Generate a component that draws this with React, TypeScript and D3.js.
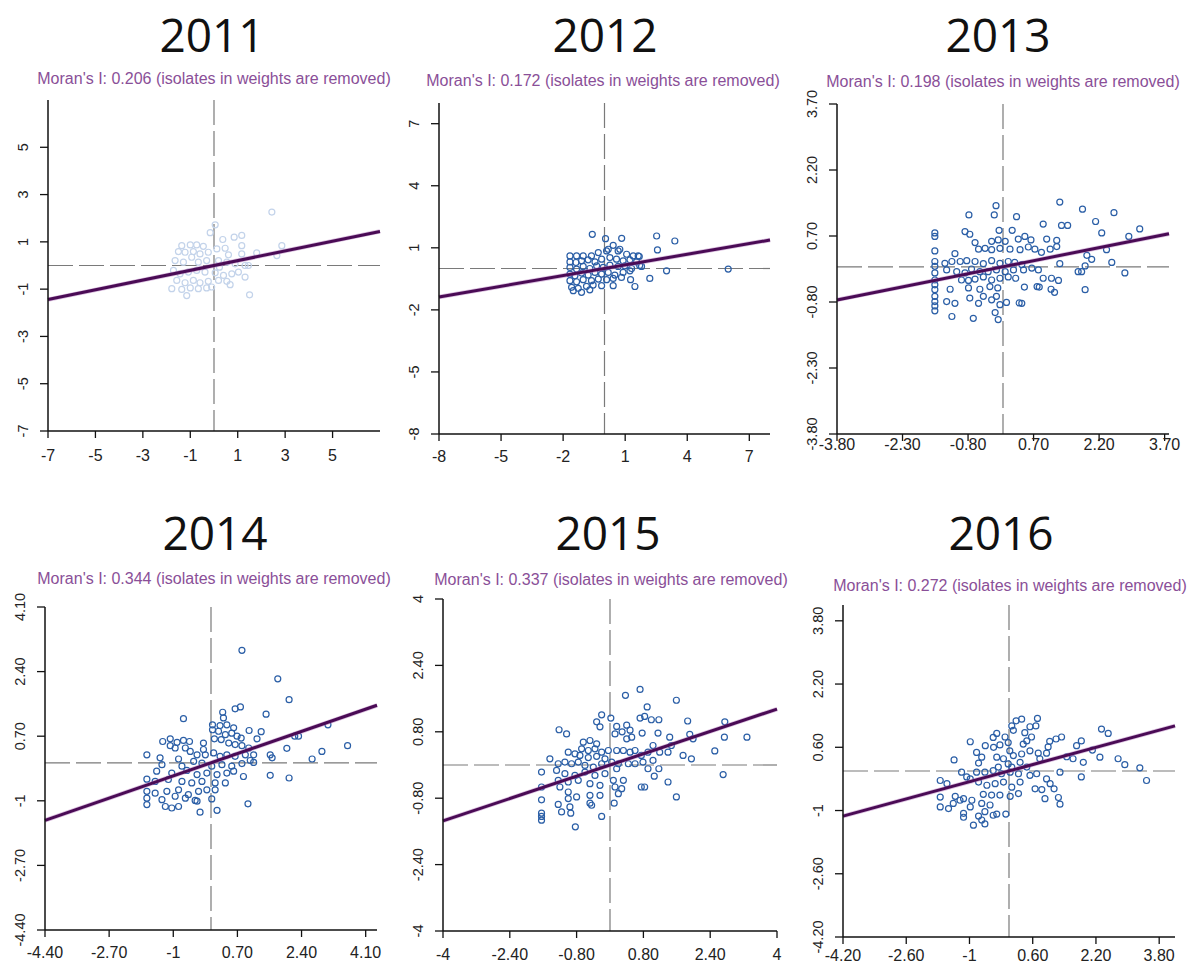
import React from 'react';
import * as d3 from 'd3';

// ---- data ----
const years = ['2011', '2012', '2013', '2014', '2015', '2016'];
const moransI = [0.206, 0.172, 0.198, 0.344, 0.337, 0.272];

const xDomains = [[-7, 7], [-8, 8], [-3.8, 3.8], [-4.4, 4.4], [-4, 4], [-4.2, 4.2]];
const yDomains = [[-7, 7], [-8, 8], [-3.8, 3.7], [-4.4, 4.1], [-4, 4], [-4.2, 4.2]];

const tickValues = [
  [-7, -5, -3, -1, 1, 3, 5],
  [-8, -5, -2, 1, 4, 7],
  [-3.8, -2.3, -0.8, 0.7, 2.2, 3.7],
  [-4.4, -2.7, -1, 0.7, 2.4, 4.1],
  [-4, -2.4, -0.8, 0.8, 2.4, 4],
  [-4.2, -2.6, -1, 0.6, 2.2, 3.8],
];

const points2011 = [
  [2.44, 2.26], [0.05, 1.72], [-0.16, 1.39], [0.37, 1.1], [0.85, 1.2], [1.17, 1.27], [1.17, 0.84],
  [-1.36, 0.84], [-1.0, 0.87], [-0.73, 0.87], [-0.45, 0.81], [-1.5, 0.59], [-1.22, 0.56], [-0.87, 0.59],
  [-0.59, 0.49], [-0.24, 0.56], [0.12, 0.7], [0.47, 0.73], [0.61, 0.45], [1.17, 0.49], [1.8, 0.53],
  [2.86, 0.84], [2.65, 0.42], [-1.64, 0.21], [-1.29, 0.14], [-0.94, 0.35], [-0.66, 0.14], [-0.31, 0.21],
  [0.19, 0.21], [0.54, 0.14], [0.89, 0.07], [1.31, 0], [1.45, 0], [-1.71, -0.21], [-1.43, -0.35],
  [-1.08, -0.28], [-0.73, -0.21], [-0.38, -0.28], [0.05, -0.31], [0.4, -0.42], [0.75, -0.35], [1.03, -0.28],
  [1.31, -0.49], [-1.57, -0.63], [-1.22, -0.73], [-0.87, -0.63], [-0.59, -0.73], [-0.24, -0.67], [0.19, -0.63],
  [0.54, -0.67], [0.68, -0.81], [-1.78, -0.98], [-1.36, -1.01], [-1.0, -0.95], [-0.66, -0.98], [-0.31, -0.95],
  [-0.1, -0.91], [-1.15, -1.27], [1.5, -1.24], [0.23, -0.07],
];

const points2012 = [
  [-0.59, 1.65], [0.05, 1.44], [0.83, 1.46], [0.42, 1.12], [0.18, 0.93], [0.74, 0.93],
  [-1.67, 0.61], [-1.35, 0.61], [-1.03, 0.61], [-0.63, 0.61], [-0.3, 0.77], [0.1, 0.85], [0.66, 0.85],
  [1.07, 0.69], [1.39, 0.61], [1.68, 0.58],
  [-1.67, 0.32], [-1.38, 0.29], [-1.11, 0.37], [-0.79, 0.42], [-0.46, 0.32], [-0.14, 0.45], [0.26, 0.53],
  [0.58, 0.45], [0.9, 0.37], [1.23, 0.42], [1.55, 0.32],
  [-1.67, 0.05], [-1.35, -0.03], [-1.03, 0.1], [-0.71, 0.0], [-0.38, 0.13], [-0.06, 0.05], [0.26, 0.16],
  [0.66, 0.1], [0.98, 0.13], [1.31, 0.0], [1.79, 0.1],
  [-1.67, -0.27], [-1.43, -0.35], [-1.11, -0.22], [-0.79, -0.32], [-0.46, -0.19], [-0.14, -0.27],
  [0.18, -0.19], [0.5, -0.32], [0.9, -0.19], [1.23, -0.11],
  [-1.67, -0.59], [-1.35, -0.64], [-1.03, -0.54], [-0.63, -0.59], [-0.3, -0.51], [0.1, -0.54], [0.42, -0.48],
  [0.82, -0.43],
  [-1.59, -0.91], [-1.27, -0.96], [-0.87, -0.86], [-0.55, -0.8], [-0.14, -0.83],
  [-1.51, -1.07], [-1.11, -1.15], [-0.71, -1.03], [0.42, -0.83],
  [2.52, 1.57], [3.4, 1.33], [2.56, 0.9], [3.0, -0.11], [5.98, -0.03], [2.19, -0.48], [1.47, -0.87],
  [1.26, -0.54], [1.63, 0.61], [1.7, 0.14],
];

const points2013 = [
  [-0.16, 1.39], [-0.2, 1.18], [-0.78, 1.18], [0.31, 1.14], [1.3, 1.47], [1.82, 1.31], [2.54, 1.23],
  [2.12, 1.03], [0.92, 0.97], [1.34, 0.94], [1.48, 0.94], [2.26, 0.77], [3.13, 0.86], [2.88, 0.69],
  [-1.56, 0.77], [-1.56, 0.69], [-0.87, 0.8], [-0.76, 0.74], [-0.09, 0.83], [0.21, 0.83], [-0.64, 0.55],
  [-0.26, 0.58], [-0.11, 0.61], [0.05, 0.58], [0.35, 0.63], [0.5, 0.69], [0.64, 0.61], [1.0, 0.63],
  [1.23, 0.6], [-1.56, 0.36], [-1.1, 0.3],
  [-0.56, 0.4], [-0.41, 0.42], [-0.26, 0.39], [-0.07, 0.42], [0.16, 0.4], [0.39, 0.39], [0.58, 0.45],
  [0.73, 0.4], [0.88, 0.33], [1.08, 0.4], [1.23, 0.46],
  [2.37, 0.39], [1.92, 0.26], [2.03, 0.17], [-1.56, 0.12], [-1.56, 0.01], [-1.33, 0.08], [-1.17, 0.12],
  [-0.98, 0.12], [-0.83, 0.14],
  [-0.64, 0.12], [-0.45, 0.07], [-0.26, 0.14], [-0.07, 0.08], [0.12, 0.12], [0.27, 0.1], [0.43, 0.05],
  [1.3, 0.07], [2.49, 0.1], [1.88, 0.02], [1.8, -0.11], [1.72, -0.11], [2.79, -0.14],
  [-1.56, -0.14], [-1.56, -0.3], [-1.56, -0.41], [-1.29, -0.07], [-1.06, -0.11], [-0.87, -0.14],
  [-0.72, -0.05], [-0.53, -0.11], [-0.34, -0.11], [-0.15, -0.07], [0.05, -0.11], [0.24, -0.07],
  [0.47, -0.07], [0.66, -0.03], [0.81, -0.07], [0.92, -0.26], [1.11, -0.26], [1.27, -0.31],
  [-0.95, -0.3], [-0.79, -0.31], [-0.64, -0.28], [-0.45, -0.23], [-0.26, -0.3], [-0.07, -0.26],
  [0.12, -0.23], [0.29, -0.26],
  [-1.21, -0.51], [-0.79, -0.48], [-0.53, -0.51], [-0.3, -0.45], [-0.12, -0.48], [0.49, -0.46],
  [0.83, -0.46], [1.1, -0.51], [1.18, -0.58], [1.88, -0.52],
  [-1.56, -0.52], [-1.56, -0.67], [-1.56, -0.79], [-1.56, -0.89], [-1.56, -1.0],
  [-1.29, -0.79], [-1.1, -0.83], [-0.76, -0.71], [-0.45, -0.67], [-0.26, -0.75], [-0.15, -0.67],
  [-0.56, -0.83], [0.08, -0.81], [0.43, -0.83], [-0.07, -0.86],
  [-1.17, -1.13], [-0.68, -1.17], [-0.18, -1.04], [-0.11, -1.2], [0.37, -0.82], [0.78, -0.45],
];

const points2014 = [
  [0.82, 2.96], [1.77, 2.21], [2.07, 1.66], [0.64, 1.42], [0.78, 1.47], [1.46, 1.28], [0.31, 1.33],
  [0.33, 1.18], [-0.73, 1.16], [3.1, 1.0], [2.22, 0.7], [2.32, 0.7], [3.62, 0.45], [2.94, 0.3],
  [2.01, 0.38], [1.01, 0.85], [1.33, 0.82], [1.22, 0.63],
  [0.04, 1.0], [0.24, 0.98], [0.42, 1.0], [0.6, 0.92], [0.04, 0.87], [0.2, 0.83], [0.38, 0.74],
  [0.55, 0.78], [0.69, 0.7], [0.8, 0.65], [0.09, 0.63], [0.27, 0.61], [0.47, 0.52], [0.64, 0.48],
  [0.82, 0.45], [1.0, 0.39],
  [-1.28, 0.56], [-1.08, 0.63], [-0.9, 0.54], [-0.73, 0.59], [-0.57, 0.56], [-1.08, 0.45], [-0.95, 0.39],
  [-0.68, 0.39], [-0.2, 0.52], [-0.2, 0.35],
  [-0.55, 0.3], [-0.37, 0.21], [-0.15, 0.21], [0.07, 0.26], [0.24, 0.17], [0.42, 0.21], [0.64, 0.17],
  [0.91, 0.21], [1.13, 0.21], [-1.7, 0.21], [-1.35, 0.13], [-0.86, 0.1], [-0.46, 0.04], [1.04, 0.06],
  [1.13, 0.01], [1.57, 0.21], [1.62, 0.13], [2.68, 0.1],
  [-1.3, -0.05], [-0.77, -0.09], [-0.24, -0.01], [0.02, -0.09], [0.29, -0.05], [0.55, -0.09], [0.82, -0.02],
  [-1.44, -0.22], [-1.04, -0.27], [-0.64, -0.2], [-0.37, -0.31], [-0.11, -0.27], [0.16, -0.31],
  [0.42, -0.27], [0.6, -0.22], [0.86, -0.36], [1.57, -0.33], [2.07, -0.4],
  [-1.7, -0.43], [-1.48, -0.49], [-1.13, -0.44], [-0.77, -0.49], [-0.51, -0.53], [-0.24, -0.49],
  [0.11, -0.53], [0.38, -0.53],
  [-1.7, -0.75], [-1.48, -0.8], [-1.17, -0.75], [-0.86, -0.71], [-0.6, -0.84], [-0.33, -0.75],
  [-0.11, -0.71], [0.11, -0.71],
  [-1.7, -0.93], [-1.3, -0.97], [-0.95, -0.88], [-0.68, -0.93], [-0.37, -1.01], [0.02, -0.95],
  [-1.7, -1.1], [-1.21, -1.15], [-1.04, -1.19], [-0.86, -1.15], [-0.42, -0.99], [-0.29, -1.3],
  [0.16, -1.25], [0.98, -1.08],
];

const points2015 = [
  [0.72, 1.82], [0.37, 1.68], [1.59, 1.56], [0.89, 1.4], [0.83, 1.17], [0.99, 1.09], [1.17, 1.09],
  [0.72, 1.13], [1.86, 1.06],
  [-0.2, 1.21], [0.02, 1.13], [-0.32, 1.04], [-0.24, 0.92], [0.16, 0.93], [0.4, 0.96], [0.29, 0.8],
  [0.48, 0.84], [0.12, 0.75], [0.4, 0.63], [0.52, 0.67],
  [-1.22, 0.85], [-1.04, 0.75], [0.77, 0.77], [1.15, 0.77], [1.43, 0.67], [1.91, 0.74], [1.99, 0.63],
  [2.74, 0.67], [3.28, 0.67], [2.75, 1.04],
  [-0.64, 0.55], [-0.48, 0.59], [-0.32, 0.51], [-0.68, 0.39], [-0.52, 0.35], [-0.36, 0.39], [-0.2, 0.31],
  [-0.04, 0.35],
  [-1.0, 0.31], [-0.84, 0.27], [-0.72, 0.23], [-0.52, 0.18], [-0.32, 0.21], [-0.12, 0.15],
  [-1.44, 0.15], [-1.24, 0.03], [-1.08, 0.07], [-0.92, 0.03], [-0.76, 0.07], [-0.6, -0.01], [-0.4, -0.05],
  [-0.2, 0.03], [0.04, 0.07],
  [0.16, 0.35], [0.32, 0.35], [0.48, 0.31], [0.6, 0.35], [0.75, 0.23], [0.91, 0.31], [1.03, 0.47],
  [1.19, 0.31], [1.39, 0.31], [1.47, 0.47], [1.75, 0.23], [1.95, 0.15], [2.51, 0.34],
  [0.2, 0.03], [0.44, 0.03], [0.6, 0.03], [0.79, 0.07], [1.03, 0.11],
  [-1.64, -0.17], [-1.28, -0.13], [-1.08, -0.21], [-0.84, -0.25], [-0.6, -0.17], [-0.36, -0.25],
  [-0.12, -0.21], [0.16, -0.09], [0.91, -0.09], [1.17, -0.09], [1.06, -0.27], [2.71, -0.23],
  [-1.24, -0.37], [-1.0, -0.41], [-0.76, -0.37], [-0.48, -0.45], [-0.24, -0.49], [0.08, -0.37],
  [0.32, -0.37], [0.12, -0.53], [0.28, -0.57], [0.75, -0.53], [0.83, -0.53], [1.39, -0.41],
  [-1.64, -0.53], [-1.2, -0.53], [-1.0, -0.65], [-0.8, -0.77], [-0.48, -0.73], [-0.24, -0.73],
  [0.2, -0.69], [1.59, -0.77], [-1.64, -0.84], [-1.0, -0.81],
  [-1.24, -0.95], [-0.96, -1.01], [-0.48, -0.92], [-0.44, -0.97], [0.1, -0.92], [-1.16, -1.13],
  [-0.94, -1.16], [-1.64, -1.16], [-1.64, -1.24], [-1.64, -1.33], [-0.2, -1.24], [-0.83, -1.49],
];

const points2016 = [
  [0.32, 1.31], [0.18, 1.27], [0.07, 1.14], [0.11, 1.03], [0.72, 1.33], [0.68, 1.14], [0.53, 1.12],
  [2.34, 1.06], [2.51, 0.95], [-0.31, 0.95], [-0.1, 0.86], [-0.4, 0.85], [0.4, 0.97], [0.57, 0.86],
  [0.45, 0.76], [0.36, 0.68], [-0.98, 0.74], [-0.6, 0.64], [-0.39, 0.6], [-0.23, 0.66], [-0.02, 0.72],
  [0.02, 0.51], [1.03, 0.75], [1.19, 0.81], [1.33, 0.86], [0.99, 0.61], [1.71, 0.64], [1.83, 0.76],
  [-0.82, 0.47], [-0.69, 0.35], [-0.77, 0.2], [-0.31, 0.35], [-0.14, 0.31], [0.11, 0.39], [0.32, 0.43],
  [0.53, 0.51], [0.28, 0.22], [-0.02, 0.18], [-0.27, 0.1], [0.07, 0.1],
  [0.74, 0.45], [0.95, 0.45], [0.78, 0.31], [1.46, 0.36], [1.62, 0.31], [1.88, 0.22], [2.11, 0.53],
  [2.3, 0.35], [2.76, 0.31], [2.93, 0.16], [3.31, 0.08], [3.48, -0.24], [-1.39, 0.28],
  [-1.2, -0.03], [-1.07, -0.15], [-0.82, -0.03], [-0.61, -0.03], [-0.4, 0.01], [-0.19, -0.07],
  [0.03, -0.03], [0.24, -0.07], [0.45, 0.1], [0.53, -0.11], [0.7, -0.07], [1.29, -0.03], [1.83, -0.15],
  [-1.74, -0.24], [-1.57, -0.32], [-0.98, -0.2], [-0.77, -0.28], [-0.56, -0.36], [-0.35, -0.32],
  [-0.14, -0.28], [0.07, -0.41], [0.28, -0.28], [0.95, -0.2], [1.04, -0.32], [1.14, -0.45],
  [-1.74, -0.66], [-1.36, -0.64], [-1.15, -0.7], [-0.94, -0.74], [-0.65, -0.59], [-0.44, -0.61],
  [-0.23, -0.61], [0.03, -0.64], [0.24, -0.57], [0.66, -0.45], [0.83, -0.47], [0.91, -0.7],
  [1.25, -0.67], [1.29, -0.84],
  [-1.74, -0.91], [-1.53, -0.95], [-1.41, -0.82], [-1.24, -0.74], [-0.98, -0.91], [-0.69, -0.82],
  [-0.48, -0.86], [-0.61, -1.03],
  [-1.15, -1.07], [-1.15, -1.17], [-0.77, -1.14], [-0.69, -1.24], [-0.4, -1.12], [-0.31, -1.09],
  [-0.08, -1.09], [-0.9, -1.37], [-0.61, -1.34],
];

const pointSets = [points2011, points2012, points2013, points2014, points2015, points2016];

// ---- layout (pixels) ----
const layout = [
  { left: 48, right: 380, top: 100, bottom: 431, titleX: 212, titleY: 52, subX: 214, subY: 84, xLab: 30 },
  { left: 439, right: 770, top: 103, bottom: 434, titleX: 605, titleY: 52, subX: 603, subY: 86, xLab: 28 },
  { left: 837, right: 1169, top: 104, bottom: 434, titleX: 998, titleY: 52, subX: 1003, subY: 87, xLab: 16 },
  { left: 45, right: 377, top: 607, bottom: 930, titleX: 215, titleY: 550, subX: 214, subY: 584, xLab: 28 },
  { left: 443, right: 777, top: 599, bottom: 931, titleX: 608, titleY: 550, subX: 611, subY: 585, xLab: 29 },
  { left: 843, right: 1175, top: 605, bottom: 937, titleX: 1001, titleY: 550, subX: 1010, subY: 591, xLab: 24 },
];

const fmtTick = (v: number) => (Number.isInteger(v) ? String(v) : v.toFixed(2));

const Panel = ({ i }: { i: number }) => {
  const L = layout[i];
  const x = d3.scaleLinear().domain(xDomains[i]).range([L.left, L.right]);
  const y = d3.scaleLinear().domain(yDomains[i]).range([L.bottom, L.top]);
  const slope = moransI[i];
  const line = d3
    .line<number>()
    .x((d) => x(d))
    .y((d) => y(slope * d));
  const light = i === 0;
  const ticks = tickValues[i];

  return (
    <g>
      <text
        x={L.titleX}
        y={L.titleY}
        textAnchor="middle"
        fontFamily="'Open Sans', sans-serif"
        fontSize={46}
        fill="#111"
      >
        {years[i]}
      </text>
      <text
        x={L.subX}
        y={L.subY}
        textAnchor="middle"
        fontFamily="'Liberation Sans', Arial, sans-serif"
        fontSize={16}
        fill="#8a4f98"
      >
        {`Moran's I: ${moransI[i].toFixed(3)} (isolates in weights are removed)`}
      </text>

      {/* zero reference lines */}
      <line x1={x(0)} x2={x(0)} y1={L.top} y2={L.bottom} stroke="#7a7a7a" strokeWidth={1.2} strokeDasharray="25,6" />
      <line x1={L.left} x2={L.right} y1={y(0)} y2={y(0)} stroke="#7a7a7a" strokeWidth={1.2} strokeDasharray="25,6" />

      {pointSets[i].map((p, k) => (
        <circle
          key={k}
          cx={x(p[0])}
          cy={y(p[1])}
          r={3}
          fill="none"
          stroke={light ? '#c3d3ea' : '#2a5ea6'}
          strokeWidth={1.2}
        />
      ))}

      <path d={line(xDomains[i]) || ''} stroke="#b070b8" strokeWidth={4.5} strokeOpacity={0.45} fill="none" />
      <path d={line(xDomains[i]) || ''} stroke="#4a0b55" strokeWidth={3} fill="none" />

      {/* axes */}
      <line x1={L.left} x2={L.right} y1={L.bottom} y2={L.bottom} stroke="#111" strokeWidth={1.5} />
      <line x1={L.left} x2={L.left} y1={L.top} y2={L.bottom} stroke="#111" strokeWidth={1.5} />
      {ticks.map((t) => (
        <g key={'x' + t}>
          <line x1={x(t)} x2={x(t)} y1={L.bottom} y2={L.bottom + 7} stroke="#111" strokeWidth={1.3} />
          <text
            x={x(t)}
            y={L.bottom + L.xLab}
            textAnchor="middle"
            fontFamily="'Liberation Sans', Arial, sans-serif"
            fontSize={16}
            fill="#222"
          >
            {fmtTick(t)}
          </text>
        </g>
      ))}
      {ticks.map((t) => (
        <g key={'y' + t}>
          <line x1={L.left - 8} x2={L.left} y1={y(t)} y2={y(t)} stroke="#111" strokeWidth={1.3} />
          <text
            transform={`translate(${L.left - 25},${y(t)}) rotate(-90)`}
            textAnchor="middle"
            dy="0.35em"
            fontFamily="'Liberation Sans', Arial, sans-serif"
            fontSize={14.5}
            fill="#222"
          >
            {fmtTick(t)}
          </text>
        </g>
      ))}
    </g>
  );
};

const App = () => {
  return (
    <svg width={1192} height={965} style={{ position: 'absolute', left: 0, top: 0, background: '#fff' }}>
      <rect width={1192} height={965} fill="#fff" />
      {years.map((_, i) => (
        <Panel key={i} i={i} />
      ))}
    </svg>
  );
};

export default App;
